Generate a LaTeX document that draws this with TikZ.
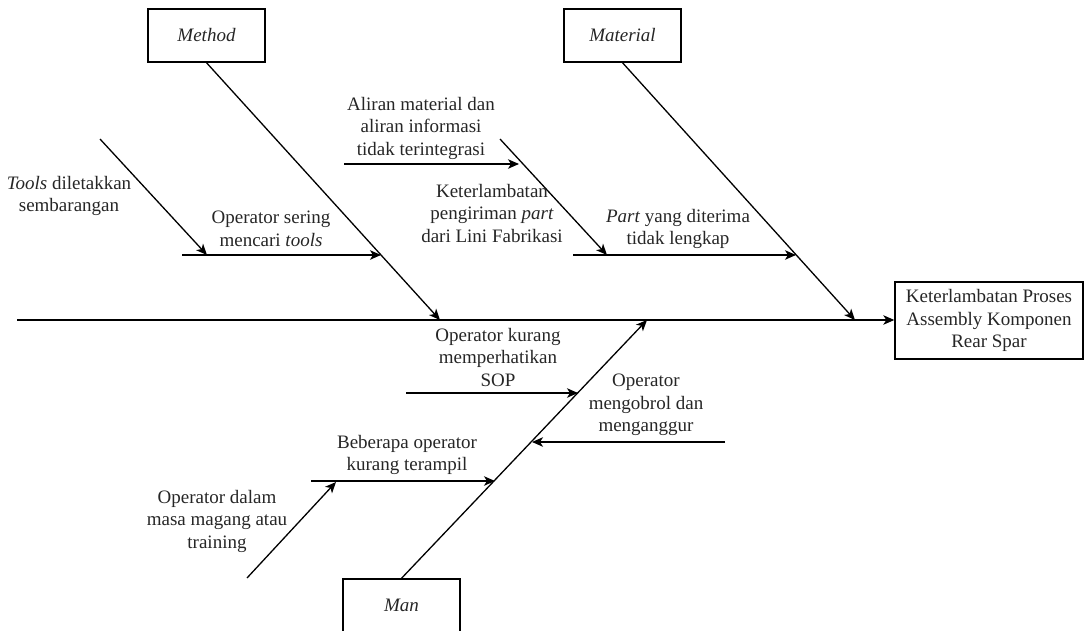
\documentclass[tikz,border=0pt]{standalone}
\usepackage{fontspec}
\setmainfont{Liberation Serif}
\usetikzlibrary{arrows.meta}
\begin{document}
\begin{tikzpicture}[x=1pt,y=-1pt,
  box/.style={draw, line width=1.4pt, minimum width=117pt, minimum height=53pt, inner sep=0pt, font=\fontsize{19}{22.5}\selectfont\itshape, text=black!85},
  lbl/.style={align=center, font=\fontsize{19}{22.5}\selectfont, inner sep=0pt, text=black!85},
  arr/.style={line width=1.3pt, -{Stealth[length=11pt,width=9.5pt,inset=3pt]}}]
\useasboundingbox (0,0) rectangle (1084,630);
% boxes
\node[box] (method) at (206.5,35.5) {Method};
\node[box] (material) at (622.5,35.5) {Material};
\node[box] (man) at (401.5,605.5) {Man};
\node[draw, line width=1.4pt, minimum width=188pt, minimum height=77pt, inner sep=0pt, align=center, font=\fontsize{19}{22.5}\selectfont, text=black!85] (result) at (989,320.5) {Keterlambatan Proses\\Assembly Komponen\\Rear Spar};
% spine
\coordinate (spineL) at (17,320);
\draw[arr] (spineL) -- (spineL -| result.west);
% main bones
\coordinate (mtip) at (440,320);
\coordinate (mattip) at (855,320);
\coordinate (mantip) at (647,320);
\draw[arr] (method.south) -- (mtip);
\draw[arr] (material.south) -- (mattip);
\draw[arr] (man.north) -- (mantip);
% Method sub-causes
\coordinate (toolsS) at (100,139);
\coordinate (toolsT) at (207,255);
\coordinate (seringS) at (182,255);
\coordinate (seringT) at (381,255);
\draw[arr] (toolsS) -- (toolsT);
\draw[arr] (seringS) -- (seringT);
\node[lbl] (tools) at (69,196) {\textit{Tools} diletakkan\\sembarangan};
\node[lbl] (sering) at (271,229) {Operator sering\\mencari \textit{tools}};
% Material sub-causes
\coordinate (aliranS) at (344,164);
\coordinate (aliranT) at (519,164);
\coordinate (keterS) at (500,139);
\coordinate (keterT) at (607,255);
\coordinate (partS) at (573,255);
\coordinate (partT) at (796,255);
\draw[arr] (aliranS) -- (aliranT);
\draw[arr] (keterS) -- (keterT);
\draw[arr] (partS) -- (partT);
\node[lbl] (aliran) at (421,128) {Aliran material dan\\aliran informasi\\tidak terintegrasi};
\node[lbl] (keter) at (492,213) {Keterlambatan\\pengiriman \textit{part}\\dari Lini Fabrikasi};
\node[lbl] (part) at (678,229) {\textit{Part} yang diterima\\tidak lengkap};
% Man sub-causes
\coordinate (sopS) at (406,393);
\coordinate (sopT) at (578,393);
\coordinate (ngobS) at (725,442);
\coordinate (ngobT) at (532,442);
\coordinate (bebS) at (311,481);
\coordinate (bebT) at (495,481);
\coordinate (magS) at (247,578);
\coordinate (magT) at (336,482);
\draw[arr] (sopS) -- (sopT);
\draw[arr] (ngobS) -- (ngobT);
\draw[arr] (bebS) -- (bebT);
\draw[arr] (magS) -- (magT);
\node[lbl] (sop) at (498,357) {Operator kurang\\memperhatikan\\SOP};
\node[lbl] (ngob) at (646,405) {Operator\\mengobrol dan\\menganggur};
\node[lbl] (beb) at (407,455) {Beberapa operator\\kurang terampil};
\node[lbl] (mag) at (217,521) {Operator dalam\\masa magang atau\\training};
\end{tikzpicture}
\end{document}
